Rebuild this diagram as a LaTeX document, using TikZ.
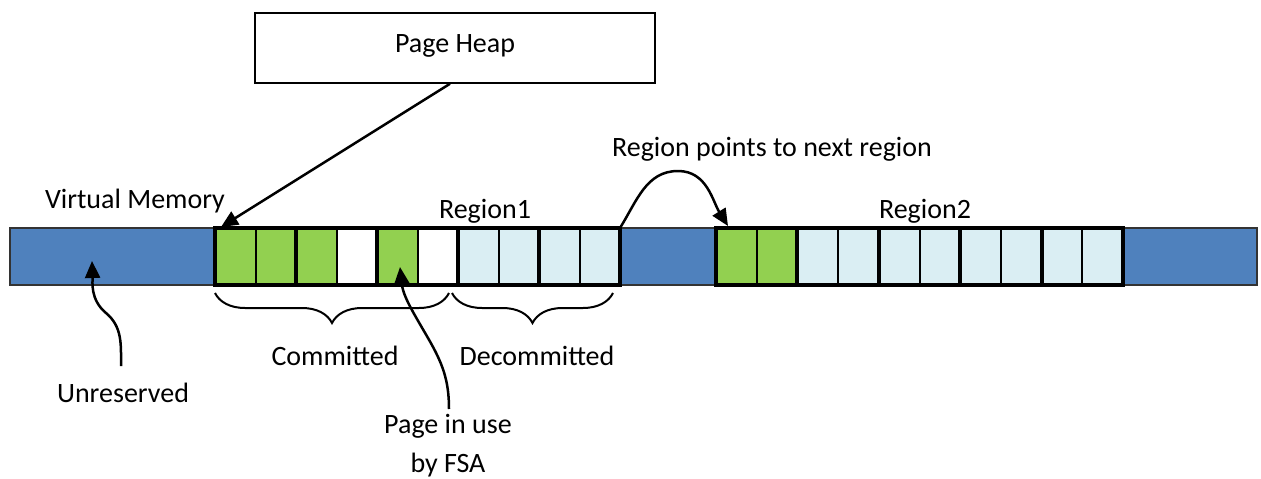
\documentclass[tikz,border=0pt]{standalone}
\usepackage{fontspec}
\setmainfont{Carlito}
\usetikzlibrary{arrows.meta,decorations.pathreplacing}
\definecolor{vmblue}{HTML}{4F81BD}
\definecolor{used}{HTML}{92D050}
\definecolor{decom}{HTML}{DAEEF3}

\begin{document}
\begin{tikzpicture}[x=1pt,y=-1pt,
  lbl/.style={font=\fontsize{28}{34}\selectfont, inner sep=0pt, anchor=base},
  ptr/.style={line width=2.5pt, -{Triangle[width=15pt,length=17pt]}},
  freemem/.style={fill=vmblue, draw=black!80, line width=1.5pt},
  pageedge/.style={draw=black, line width=2pt},
  pairedge/.style={draw=black, line width=4pt},
  bracket/.style={line width=2pt, decorate, decoration={brace, amplitude=30pt}}]
\useasboundingbox (0,0) rectangle (1261,479);

% unreserved address space
\draw[freemem] (10,228) rectangle (215,285);
\draw[freemem] (620,228) rectangle (716,285);
\draw[freemem] (1123,228) rectangle (1257,285);

% Region1: ten pages
\foreach \c [count=\i from 0] in {used,used,used,white,used,white,decom,decom,decom,decom}
  \fill[\c] (215+40.5*\i,228) rectangle ++(40.5,57);
\foreach \i in {1,3,5,7,9}
  \draw[pageedge] (215+40.5*\i,228) -- ++(0,57);
\foreach \i in {2,4,6,8}
  \draw[pairedge] (215+40.5*\i,228) -- ++(0,57);
\draw[pairedge] (215,228) rectangle (620,285);

% Region2: ten pages
\foreach \c [count=\i from 0] in {used,used,decom,decom,decom,decom,decom,decom,decom,decom}
  \fill[\c] (716+40.7*\i,228) rectangle ++(40.7,57);
\foreach \i in {1,3,5,7,9}
  \draw[pageedge] (716+40.7*\i,228) -- ++(0,57);
\foreach \i in {2,4,6,8}
  \draw[pairedge] (716+40.7*\i,228) -- ++(0,57);
\draw[pairedge] (716,228) rectangle (1123,285);

% anchor points on the bar
\coordinate (r1start) at (221,227);
\coordinate (r1end) at (620,228);
\coordinate (r1peak) at (678,171);
\coordinate (r2start) at (728,226);
\coordinate (unresspot) at (92,261);
\coordinate (fsapage) at (400,267);
\coordinate (unresfoot) at (121,366);
\coordinate (unresbend) at (106,313);
\coordinate (fsafoot) at (449,409);
\coordinate (fsabend) at (428,338);

% page heap box
\node[draw, line width=1.5pt, minimum width=400pt, minimum height=70pt,
      text height=14pt, text depth=6pt, inner sep=0pt,
      font=\fontsize{28}{34}\selectfont] (heap) at (455,48) {Page Heap};

% labels
\node[lbl] (vm) at (135,208) {Virtual Memory};
\node[lbl] (reg1) at (485,218) {Region1};
\node[lbl] (reg2) at (925,218) {Region2};
\node[lbl] (next) at (772,156) {Region points to next region};
\node[lbl] (com) at (335,365) {Committed};
\node[lbl] (decomlbl) at (537,365) {Decommitted};
\node[lbl] (unres) at (123,402) {Unreserved};
\node[lbl] (inuse) at (448,433) {Page in use};
\node[lbl] (byfsa) at (448,472) {by FSA};

% braces
\draw[bracket] (449,293) -- (215,293);
\draw[bracket] (613,293) -- (452,293);

% pointers
\draw[ptr] ([xshift=-5pt]heap.south) -- (r1start);
\draw[ptr] (r1end) to[out=58,in=180] (r1peak) to[out=0,in=122] (r2start);
\draw[ptr] (unresfoot) to[out=90,in=-40] (unresbend) to[out=140,in=-88] (unresspot);
\draw[ptr] (fsafoot) to[out=90,in=-60] (fsabend) to[out=120,in=-84] (fsapage);
\end{tikzpicture}
\end{document}
